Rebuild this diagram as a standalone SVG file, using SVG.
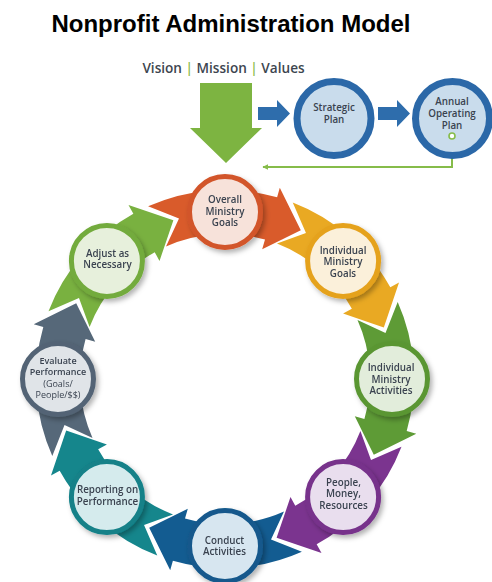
<svg xmlns="http://www.w3.org/2000/svg" xmlns:xlink="http://www.w3.org/1999/xlink" width="492" height="582" viewBox="0 0 492 582">
  <style>
    .title { font-family: "Liberation Sans", Arial, sans-serif; font-weight: bold; font-size: 24px; fill: #000; }
    .vmv { font-family: "Open Sans", "DejaVu Sans", sans-serif; font-weight: 600; font-size: 13.6px; fill: #3d4650; }
    .sep { fill: #8dbb4a; }
    .lbl { font-family: "Open Sans", "DejaVu Sans", sans-serif; font-weight: 600; font-size: 9.8px; fill: #3a4350; text-anchor: middle; }
    .thin { font-weight: 400; }
    .small { font-size: 9px; }
    .plan { font-family: "Open Sans", "DejaVu Sans", sans-serif; font-weight: 600; font-size: 9.8px; fill: #3a4350; text-anchor: middle; }
    .ring { stroke-width: 5; }
    .blue-node { fill: #c9dcec; stroke: #2b68a8; stroke-width: 7; }
    .feedback { fill: none; stroke: #86bc4a; stroke-width: 2; }
  </style>
  <defs>
    <filter id="shadow" x="-30%" y="-30%" width="170%" height="170%">
      <feDropShadow dx="2.5" dy="3" stdDeviation="2.5" flood-color="#000" flood-opacity="0.3"/>
    </filter>
    <!-- one curved cycle arrow for the node at the top; the others are rotated copies -->
    <path id="arw" d="M148.1,206.3 A189,189 0 0 1 277.1,197.3 L279.8,187.7 L300.8,230.2 L262.2,249.2 L265.0,239.6 A145,145 0 0 0 166.0,246.5 L179.0,218.5 Z"/>
    <marker id="tipGreen" viewBox="0 0 10 10" refX="9" refY="5" markerWidth="6" markerHeight="6" orient="auto-start-reverse" markerUnits="userSpaceOnUse">
      <path d="M0,0 L10,5 L0,10 Z" fill="#86bc4a"/>
    </marker>
  </defs>

  <text class="title" x="231" y="32" text-anchor="middle">Nonprofit Administration Model</text>
  <text class="vmv" x="223.5" y="73" text-anchor="middle">Vision <tspan class="sep">|</tspan> Mission <tspan class="sep">|</tspan> Values</text>

  <g id="connectors">
    <!-- vision/mission/values feeding the cycle -->
    <polygon points="200,83 252,83 252,128 262,128 226,163 190,128 200,128" fill="#7db441"/>
    <!-- planning chain -->
    <polygon points="258,107 277,107 277,100 290,113.5 277,127 277,120 258,120" fill="#2e6dac"/>
    <polygon points="378,107 397,107 397,100 410,113.5 397,127 397,120 378,120" fill="#2e6dac"/>
    <!-- operating plan back into the goals -->
    <polyline class="feedback" points="452,139 452,167 263,167" marker-end="url(#tipGreen)"/>
    <!-- cycle arrows -->
    <use xlink:href="#arw" href="#arw" fill="#d95b2b"/>
    <use xlink:href="#arw" href="#arw" fill="#e9a923" transform="rotate(45 225 379)"/>
    <use xlink:href="#arw" href="#arw" fill="#5e9b36" transform="rotate(90 225 379)"/>
    <use xlink:href="#arw" href="#arw" fill="#7b348f" transform="rotate(135 225 379)"/>
    <use xlink:href="#arw" href="#arw" fill="#135c91" transform="rotate(180 225 379)"/>
    <use xlink:href="#arw" href="#arw" fill="#15868c" transform="rotate(225 225 379)"/>
    <use xlink:href="#arw" href="#arw" fill="#566879" transform="rotate(270 225 379)"/>
    <use xlink:href="#arw" href="#arw" fill="#79b140" transform="rotate(315 225 379)"/>
  </g>

  <g id="strategic-plan">
    <circle class="blue-node" cx="334" cy="118.5" r="37"/>
    <text class="plan" x="334" y="110.5">Strategic</text>
    <text class="plan" x="334" y="123">Plan</text>
  </g>

  <g id="annual-operating-plan">
    <circle class="blue-node" cx="452.5" cy="118.5" r="37"/>
    <text class="plan" x="452" y="104.5">Annual</text>
    <text class="plan" x="452" y="116.7">Operating</text>
    <text class="plan" x="452" y="128.9">Plan</text>
    <circle cx="452" cy="136" r="3" fill="#fff" stroke="#86bc4a" stroke-width="1.6"/>
  </g>

  <g id="overall-ministry-goals" filter="url(#shadow)">
    <circle class="ring" cx="225" cy="212" r="35.5" fill="#f7e2da" stroke="#d2552a"/>
    <text class="lbl"><tspan x="225" y="203">Overall</tspan><tspan x="225" y="214.5">Ministry</tspan><tspan x="225" y="226">Goals</tspan></text>
  </g>

  <g id="individual-ministry-goals" filter="url(#shadow)">
    <circle class="ring" cx="343.1" cy="260.9" r="35.5" fill="#fbf0da" stroke="#e5a21f"/>
    <text class="lbl"><tspan x="343" y="253.5">Individual</tspan><tspan x="343" y="265">Ministry</tspan><tspan x="343" y="276.5">Goals</tspan></text>
  </g>

  <g id="individual-ministry-activities" filter="url(#shadow)">
    <circle class="ring" cx="392" cy="379" r="35.5" fill="#e2eddb" stroke="#5a9633"/>
    <text class="lbl"><tspan x="391" y="371">Individual</tspan><tspan x="391" y="382.5">Ministry</tspan><tspan x="391" y="394">Activities</tspan></text>
  </g>

  <g id="people-money-resources" filter="url(#shadow)">
    <circle class="ring" cx="343.1" cy="497.1" r="35.5" fill="#e9deee" stroke="#77318b"/>
    <text class="lbl"><tspan x="343.5" y="485.5">People,</tspan><tspan x="343.5" y="497">Money,</tspan><tspan x="343.5" y="508.5">Resources</tspan></text>
  </g>

  <g id="conduct-activities" filter="url(#shadow)">
    <circle class="ring" cx="225" cy="546" r="35.5" fill="#d7e6f0" stroke="#14598c"/>
    <text class="lbl"><tspan x="224.5" y="543.5">Conduct</tspan><tspan x="224.5" y="555">Activities</tspan></text>
  </g>

  <g id="reporting-on-performance" filter="url(#shadow)">
    <circle class="ring" cx="106.9" cy="497.1" r="35.5" fill="#d5ebed" stroke="#138188"/>
    <text class="lbl"><tspan x="107.5" y="493">Reporting on</tspan><tspan x="107.5" y="504.5">Performance</tspan></text>
  </g>

  <g id="evaluate-performance" filter="url(#shadow)">
    <circle class="ring" cx="58" cy="379" r="35.5" fill="#e0e4e8" stroke="#536475"/>
    <text class="lbl small" x="58" y="363.6">Evaluate</text>
    <text class="lbl small" x="58" y="375.2">Performance</text>
    <text class="lbl small thin" x="58" y="386.8">(Goals/</text>
    <text class="lbl small thin" x="58" y="398.4">People/$$)</text>
  </g>

  <g id="adjust-as-necessary" filter="url(#shadow)">
    <circle class="ring" cx="106.9" cy="260.9" r="35.5" fill="#e7f0dc" stroke="#73ab3c"/>
    <text class="lbl"><tspan x="107.5" y="256.5">Adjust as</tspan><tspan x="107.5" y="268">Necessary</tspan></text>
  </g>
</svg>
